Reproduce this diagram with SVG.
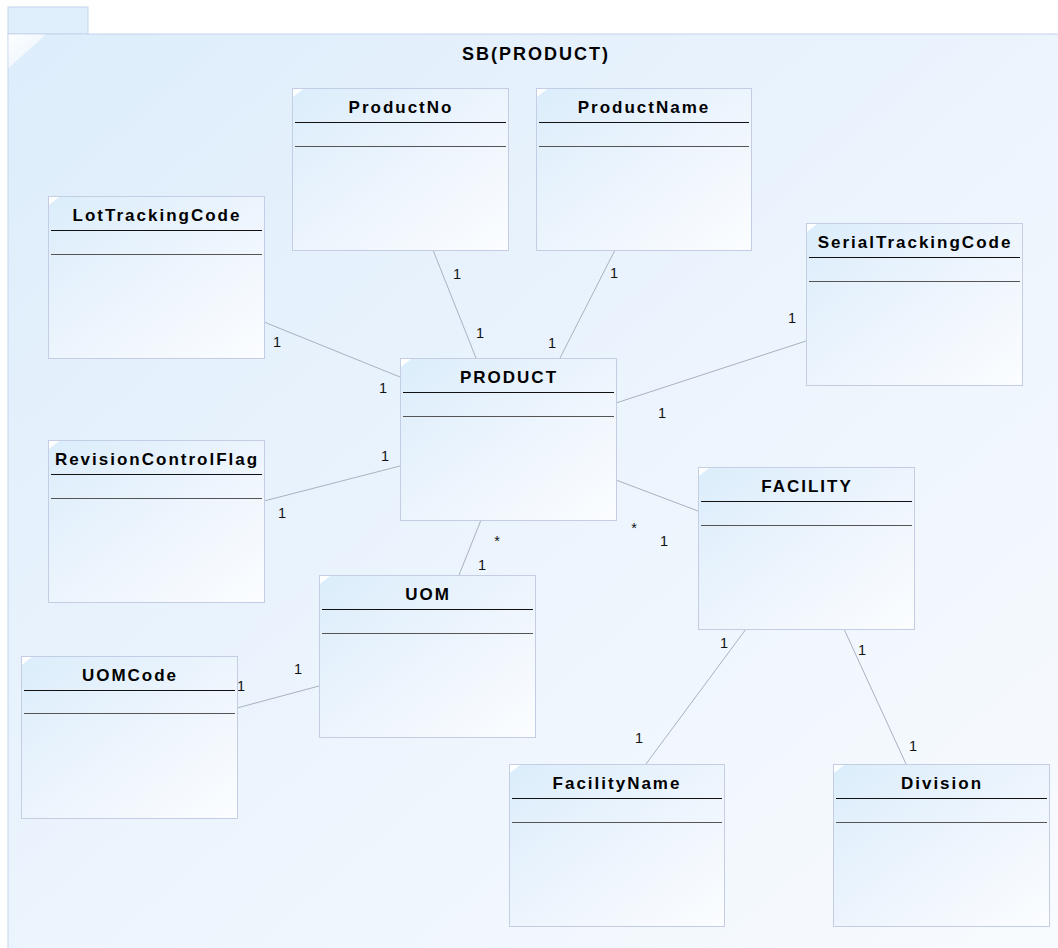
<svg xmlns="http://www.w3.org/2000/svg" width="1058" height="948" viewBox="0 0 1058 948">
<defs>
<linearGradient id="gFrame" x1="0" y1="0" x2="1" y2="1">
<stop offset="0" stop-color="#ddedfb"/>
<stop offset="0.5" stop-color="#ecf4fd"/>
<stop offset="1" stop-color="#f8fbfe"/>
</linearGradient>
<linearGradient id="gBox" x1="0" y1="0" x2="1" y2="1">
<stop offset="0" stop-color="#dbedfb"/>
<stop offset="0.55" stop-color="#eef5fd"/>
<stop offset="1" stop-color="#fbfdff"/>
</linearGradient>
<linearGradient id="gTri" x1="0" y1="0" x2="1" y2="1">
<stop offset="0" stop-color="#ffffff" stop-opacity="0.95"/>
<stop offset="1" stop-color="#ffffff" stop-opacity="0.3"/>
</linearGradient>
</defs>
<style>
.box{fill:url(#gBox);stroke:#c5cde4;stroke-width:1}
.sep1{stroke:#111;stroke-width:1.2}
.sep2{stroke:#555;stroke-width:1.2}
.title{font-family:"Liberation Sans",Arial,sans-serif;font-weight:bold;font-size:17px;letter-spacing:2px;fill:#000;text-anchor:middle}
.frameTitle{font-family:"Liberation Sans",Arial,sans-serif;font-weight:bold;font-size:18px;letter-spacing:2px;fill:#000;text-anchor:middle}
.conn{stroke:#a9b1c2;stroke-width:1;fill:none}
.mult{font-family:"Liberation Sans",Arial,sans-serif;font-size:14.5px;fill:#111;text-anchor:middle}
.corner{fill:#ffffff;opacity:0.95}
</style>
<rect width="1058" height="948" fill="#ffffff"/>
<g id="frame">
<rect x="8" y="7" width="80" height="27" fill="#e0effc" stroke="#c4d3eb"/>
<rect x="8" y="34" width="1070" height="930" fill="url(#gFrame)" stroke="#c4d3eb"/>
<polygon points="8.5,34.5 46,34.5 8.5,68" fill="url(#gTri)"/>
<text class="frameTitle" x="536" y="60">SB(PRODUCT)</text>
</g>
<g id="connectors">
<line class="conn" x1="433" y1="250" x2="476" y2="358"/>
<line class="conn" x1="615" y1="250" x2="560" y2="358"/>
<line class="conn" x1="264" y1="322" x2="400" y2="377"/>
<line class="conn" x1="806" y1="341" x2="616" y2="403"/>
<line class="conn" x1="264" y1="501" x2="400" y2="466"/>
<line class="conn" x1="616" y1="480" x2="698" y2="511"/>
<line class="conn" x1="481" y1="520" x2="459" y2="575"/>
<line class="conn" x1="237" y1="708" x2="319" y2="686"/>
<line class="conn" x1="746" y1="629" x2="646" y2="764"/>
<line class="conn" x1="844" y1="629" x2="906" y2="764"/>
<text class="mult" x="457" y="279">1</text>
<text class="mult" x="480" y="338">1</text>
<text class="mult" x="614" y="278">1</text>
<text class="mult" x="552" y="348">1</text>
<text class="mult" x="277" y="347">1</text>
<text class="mult" x="383" y="393">1</text>
<text class="mult" x="792" y="323">1</text>
<text class="mult" x="662" y="418">1</text>
<text class="mult" x="385" y="461">1</text>
<text class="mult" x="282" y="518">1</text>
<text class="mult" x="634" y="533">*</text>
<text class="mult" x="664" y="546">1</text>
<text class="mult" x="497" y="546">*</text>
<text class="mult" x="482" y="570">1</text>
<text class="mult" x="241" y="691">1</text>
<text class="mult" x="298" y="674">1</text>
<text class="mult" x="724" y="648">1</text>
<text class="mult" x="639" y="743">1</text>
<text class="mult" x="862" y="655">1</text>
<text class="mult" x="913" y="751">1</text>
</g>
<g id="ProductNo">
<rect class="box" x="292.5" y="88.5" width="216" height="162"/>
<polygon class="corner" points="293,89 303,89 293,97"/>
<text class="title" x="401" y="113">ProductNo</text>
<line class="sep1" x1="295" y1="122.5" x2="506" y2="122.5"/>
<line class="sep2" x1="295" y1="146.5" x2="506" y2="146.5"/>
</g>
<g id="ProductName">
<rect class="box" x="536.5" y="88.5" width="215" height="162"/>
<polygon class="corner" points="537,89 547,89 537,97"/>
<text class="title" x="644" y="113">ProductName</text>
<line class="sep1" x1="539" y1="122.5" x2="749" y2="122.5"/>
<line class="sep2" x1="539" y1="146.5" x2="749" y2="146.5"/>
</g>
<g id="LotTrackingCode">
<rect class="box" x="48.5" y="196.5" width="216" height="162"/>
<polygon class="corner" points="49,197 59,197 49,205"/>
<text class="title" x="157" y="221">LotTrackingCode</text>
<line class="sep1" x1="51" y1="230.5" x2="262" y2="230.5"/>
<line class="sep2" x1="51" y1="254.5" x2="262" y2="254.5"/>
</g>
<g id="SerialTrackingCode">
<rect class="box" x="806.5" y="223.5" width="216" height="162"/>
<polygon class="corner" points="807,224 817,224 807,232"/>
<text class="title" x="915" y="248">SerialTrackingCode</text>
<line class="sep1" x1="809" y1="257.5" x2="1020" y2="257.5"/>
<line class="sep2" x1="809" y1="281.5" x2="1020" y2="281.5"/>
</g>
<g id="PRODUCT">
<rect class="box" x="400.5" y="358.5" width="216" height="162"/>
<polygon class="corner" points="401,359 411,359 401,367"/>
<text class="title" x="509" y="383">PRODUCT</text>
<line class="sep1" x1="403" y1="392.5" x2="614" y2="392.5"/>
<line class="sep2" x1="403" y1="416.5" x2="614" y2="416.5"/>
</g>
<g id="RevisionControlFlag">
<rect class="box" x="48.5" y="440.5" width="216" height="162"/>
<polygon class="corner" points="49,441 59,441 49,449"/>
<text class="title" x="157" y="465">RevisionControlFlag</text>
<line class="sep1" x1="51" y1="474.5" x2="262" y2="474.5"/>
<line class="sep2" x1="51" y1="498.5" x2="262" y2="498.5"/>
</g>
<g id="FACILITY">
<rect class="box" x="698.5" y="467.5" width="216" height="162"/>
<polygon class="corner" points="699,468 709,468 699,476"/>
<text class="title" x="807" y="492">FACILITY</text>
<line class="sep1" x1="701" y1="501.5" x2="912" y2="501.5"/>
<line class="sep2" x1="701" y1="525.5" x2="912" y2="525.5"/>
</g>
<g id="UOM">
<rect class="box" x="319.5" y="575.5" width="216" height="162"/>
<polygon class="corner" points="320,576 330,576 320,584"/>
<text class="title" x="428" y="600">UOM</text>
<line class="sep1" x1="322" y1="609.5" x2="533" y2="609.5"/>
<line class="sep2" x1="322" y1="633.5" x2="533" y2="633.5"/>
</g>
<g id="UOMCode">
<rect class="box" x="21.5" y="656.5" width="216" height="162"/>
<polygon class="corner" points="22,657 32,657 22,665"/>
<text class="title" x="130" y="681">UOMCode</text>
<line class="sep1" x1="24" y1="690.5" x2="235" y2="690.5"/>
<line class="sep2" x1="24" y1="713.5" x2="235" y2="713.5"/>
</g>
<g id="FacilityName">
<rect class="box" x="509.5" y="764.5" width="215" height="162"/>
<polygon class="corner" points="510,765 520,765 510,773"/>
<text class="title" x="617" y="789">FacilityName</text>
<line class="sep1" x1="512" y1="798.5" x2="722" y2="798.5"/>
<line class="sep2" x1="512" y1="822.5" x2="722" y2="822.5"/>
</g>
<g id="Division">
<rect class="box" x="833.5" y="764.5" width="216" height="162"/>
<polygon class="corner" points="834,765 844,765 834,773"/>
<text class="title" x="942" y="789">Division</text>
<line class="sep1" x1="836" y1="798.5" x2="1047" y2="798.5"/>
<line class="sep2" x1="836" y1="822.5" x2="1047" y2="822.5"/>
</g>
</svg>
